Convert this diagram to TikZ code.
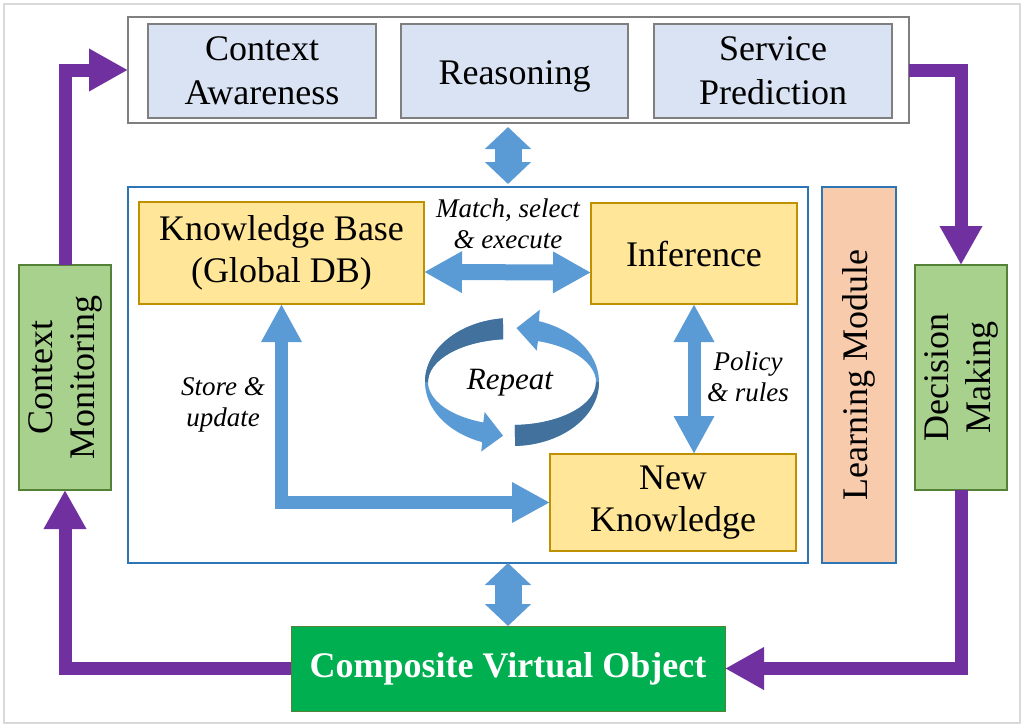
\documentclass[tikz,border=0pt]{standalone}
\usepackage{fontspec}
\setmainfont{Liberation Serif}
\usepackage{xcolor}
\usepackage{tikz}
\usetikzlibrary{arrows.meta,calc}

\definecolor{framegray}{HTML}{D9D9D9}
\definecolor{boxblue}{HTML}{DAE3F3}
\definecolor{boxgray}{HTML}{7F7F7F}
\definecolor{kbyellow}{HTML}{FFE699}
\definecolor{kbgold}{HTML}{BF9000}
\definecolor{lmorange}{HTML}{F8CBAD}
\definecolor{lmblue}{HTML}{2E75B6}
\definecolor{ctxgreen}{HTML}{A9D18E}
\definecolor{ctxdark}{HTML}{538135}
\definecolor{cvogreen}{HTML}{00B050}
\definecolor{flowpurple}{HTML}{7030A0}
\definecolor{flowblue}{HTML}{5B9BD5}
\definecolor{ringdark}{HTML}{41719C}

\newcommand{\sidetext}[1]{\rotatebox{90}{\begin{tabular}{@{}c@{}}#1\end{tabular}}}

\begin{document}
\begin{tikzpicture}[x=1pt, y=-1pt,
		every node/.style={inner sep=0pt, outer sep=0pt, align=center},
		topitem/.style={draw=boxgray, fill=boxblue, line width=2pt, minimum height=94pt, font=\fontsize{36}{44}\selectfont},
		kbitem/.style={draw=kbgold, fill=kbyellow, line width=1.5pt, font=\fontsize{36}{42}\selectfont},
		ctxitem/.style={draw=ctxdark, fill=ctxgreen, line width=1.5pt, minimum width=92pt, minimum height=225pt, font=\fontsize{36}{42}\selectfont},
		note/.style={font=\itshape\fontsize{27}{31}\selectfont},
		purplearrow/.style={draw=flowpurple, line width=13pt, -{Triangle[width=40pt, length=39pt]}},
		bluearrow/.style={draw=flowblue, line width=13pt, {Triangle[width=38pt, length=38pt]}-{Triangle[width=38pt, length=38pt]}},
		fatarrow/.style={draw=flowblue, line width=27pt, {Triangle[width=45pt, length=22pt]}-{Triangle[width=45pt, length=22pt]}}]
	\useasboundingbox (0,0) rectangle (1024,726);
	\draw[framegray, line width=1.5pt] (4,4) rectangle (1020,723);

	\node[draw=boxgray, line width=2pt, minimum width=781pt, minimum height=106pt] (layer) at (518.5,70) {};
	\node[topitem, minimum width=228pt] (aware) at (262,71) {Context\\Awareness};
	\node[topitem, minimum width=227pt] (reason) at (514.5,71) {\raisebox{-13pt}[0pt][0pt]{Reasoning}};
	\node[topitem, minimum width=238pt] (predict) at (773,71) {Service\\Prediction};

	\node[draw=lmblue, line width=1.2pt, minimum width=680pt, minimum height=376pt] (engine) at (468,375) {};
	\node[draw=lmblue, fill=lmorange, line width=2pt, minimum width=74pt, minimum height=376pt, font=\fontsize{36}{42}\selectfont] (learn) at (859,375) {\rotatebox{90}{Learning Module}};
	\node[kbitem, minimum width=285pt, minimum height=102pt] (kb) at (281.5,253) {Knowledge Base\\(Global DB)};
	\node[kbitem, minimum width=206pt, minimum height=101pt] (infer) at (694,253.5) {Inference};
	\node[kbitem, minimum width=246pt, minimum height=97pt] (newk) at (673,502.5) {New\\Knowledge};

	\node[ctxitem] (monitor) at (65,377.5) {\sidetext{Context\\Monitoring}};
	\node[ctxitem] (decide) at (961,377.5) {\sidetext{Decision\\Making}};
	\node[draw=ctxdark, fill=cvogreen, line width=1pt, minimum width=434pt, minimum height=85pt, text=white, font=\bfseries\fontsize{36}{42}\selectfont] (cvo) at (508,668.5) {Composite Virtual Object};

	\begin{scope}[shift={(512,382)}]
		\fill[flowblue] (264:87 and 64) arc[start angle=264, end angle=110, x radius=87, y radius=64] -- (110:90 and 74) -- (96:85.5 and 54) -- (110:80 and 32) -- (110:84 and 43) arc[start angle=110, end angle=264, x radius=84, y radius=43] -- cycle;
		\fill[ringdark] (264:87 and 64) arc[start angle=264, end angle=180, x radius=87, y radius=64] -- (180:84 and 43) arc[start angle=180, end angle=264, x radius=84, y radius=43] -- cycle;
		\fill[flowblue] (88:87 and 64) arc[start angle=88, end angle=-72, x radius=87, y radius=64] -- (-72:90 and 76) -- (-87:85.5 and 54) -- (-72:80 and 33) -- (-72:84 and 43) arc[start angle=-72, end angle=88, x radius=84, y radius=43] -- cycle;
		\fill[ringdark] (88:87 and 64) arc[start angle=88, end angle=0, x radius=87, y radius=64] -- (0:84 and 43) arc[start angle=0, end angle=88, x radius=84, y radius=43] -- cycle;
	\end{scope}

	\node[note] (match) at (508,224) {Match, select\\\& execute};
	\node[note] (policy) at (748,377) {Policy\\\& rules};
	\node[note] (store) at (223,405) {Store \&\\update};
	\node[font=\itshape\fontsize{31}{36}\selectfont] (repeat) at (510,383) {Repeat};

	\draw[purplearrow] (monitor.north) |- (layer.west);
	\draw[purplearrow] (layer.east) -| (decide.north);
	\draw[purplearrow] (decide.south) |- (cvo.east);
	\draw[purplearrow] (cvo.west) -| (monitor.south);

	\draw[fatarrow, shorten <=4pt, shorten >=3pt] (layer.south -| cvo.north) -- (engine.north -| cvo.north);
	\draw[fatarrow] (engine.south -| cvo.north) -- (cvo.north);
	\draw[bluearrow, line width=16pt, {Triangle[width=39pt, length=38pt]}-{Triangle[width=39pt, length=38pt]}] ([yshift=-19pt]kb.east) -- ([yshift=-19pt]infer.west);
	\draw[bluearrow] (infer.south) -- (infer.south |- newk.north);
	\draw[bluearrow, line width=12.5pt] (kb.south) |- (newk.west);
\end{tikzpicture}
\end{document}
